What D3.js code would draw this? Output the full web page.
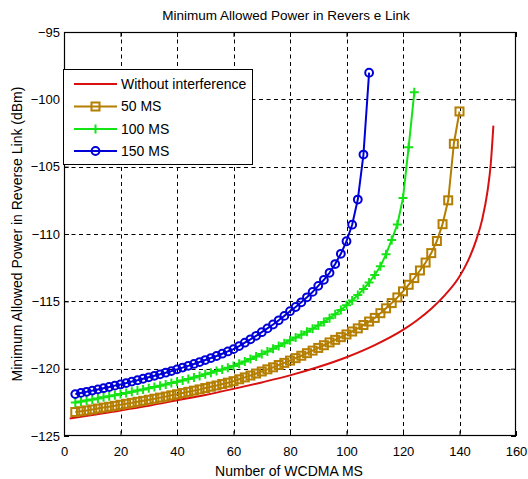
<!DOCTYPE html>
<html>
<head>
<meta charset="utf-8">
<script src="https://cdn.jsdelivr.net/npm/d3@7"></script>
<style>
  body { margin: 0; background: #fff; }
  text { font-family: "Liberation Sans", Arial, sans-serif; }
</style>
</head>
<body>
<svg id="chart" width="528" height="479"></svg>
<script>
// ---- chart text ----
const titleText = "Minimum Allowed Power in Revers e Link";
const xLabelText = "Number of WCDMA MS";
const yLabelText = "Minimum Allowed Power in Reverse Link (dBm)";
const xTicks = [0, 20, 40, 60, 80, 100, 120, 140, 160];
const yTicks = [-125, -120, -115, -110, -105, -100, -95];
const seriesNames = ["Without interference", "50 MS", "100 MS", "150 MS"];

// ---- series: [number of WCDMA MS, minimum allowed power (dBm)] ----
const withoutInterference = [
  [2,-123.70],[10,-123.45],[20,-123.10],[30,-122.75],[40,-122.35],[50,-121.95],
  [60,-121.50],[70,-121.02],[80,-120.50],[90,-119.88],[100,-119.15],[110,-118.25],
  [120,-117.12],[125,-116.40],[130,-115.55],[135,-114.50],[140,-113.15],[143,-112.00],
  [146,-110.40],[148,-108.95],[150,-106.70],[151,-104.95],[152,-101.95]
];
const ms50 = [
  [4,-123.22],[6,-123.16],[8,-123.10],[10,-123.03],[12,-122.96],[14,-122.89],[16,-122.83],
  [18,-122.76],[20,-122.68],[22,-122.61],[24,-122.54],[26,-122.46],[28,-122.39],[30,-122.31],
  [32,-122.23],[34,-122.15],[36,-122.07],[38,-121.98],[40,-121.90],[42,-121.81],[44,-121.72],
  [46,-121.63],[48,-121.54],[50,-121.44],[52,-121.34],[54,-121.25],[56,-121.14],[58,-121.04],
  [60,-120.93],[62,-120.79],[64,-120.65],[66,-120.51],[68,-120.36],[70,-120.21],[72,-120.05],
  [74,-119.90],[76,-119.73],[78,-119.57],[80,-119.40],[82,-119.22],[84,-119.04],[86,-118.85],
  [88,-118.66],[90,-118.46],[92,-118.26],[94,-118.05],[96,-117.86],[98,-117.66],[100,-117.46],
  [102,-117.24],[104,-117.01],[106,-116.76],[108,-116.50],[110,-116.23],[112,-115.88],
  [114,-115.52],[116,-115.13],[118,-114.71],[120,-114.26],[122,-113.77],[124,-113.27],
  [126,-112.71],[128,-112.12],[130,-111.42],[132,-110.52],[134,-109.27],[136,-107.50],
  [138,-103.30],[140,-100.90]
];
const ms100 = [
  [4,-122.51],[6,-122.44],[8,-122.36],[10,-122.29],[12,-122.21],[14,-122.13],[16,-122.05],
  [18,-121.97],[20,-121.89],[22,-121.81],[24,-121.72],[26,-121.63],[28,-121.55],[30,-121.45],
  [32,-121.36],[34,-121.27],[36,-121.17],[38,-121.07],[40,-120.97],[42,-120.87],[44,-120.76],
  [46,-120.65],[48,-120.54],[50,-120.42],[52,-120.30],[54,-120.18],[56,-120.06],[58,-119.93],
  [60,-119.80],[62,-119.63],[64,-119.46],[66,-119.28],[68,-119.10],[70,-118.92],[72,-118.73],
  [74,-118.53],[76,-118.32],[78,-118.11],[80,-117.89],[82,-117.69],[84,-117.48],[86,-117.26],
  [88,-117.03],[90,-116.79],[92,-116.53],[94,-116.25],[96,-115.96],[98,-115.64],[100,-115.30],
  [102,-114.94],[104,-114.53],[106,-114.09],[108,-113.60],[110,-113.04],[112,-112.40],
  [114,-111.50],[116,-110.44],[118,-109.29],[120,-107.32],[122,-103.55],[124,-99.48]
];
const ms150 = [
  [4,-121.89],[6,-121.80],[8,-121.72],[10,-121.63],[12,-121.54],[14,-121.45],[16,-121.36],
  [18,-121.26],[20,-121.17],[22,-121.07],[24,-120.96],[26,-120.86],[28,-120.75],[30,-120.64],
  [32,-120.53],[34,-120.42],[36,-120.30],[38,-120.18],[40,-120.05],[42,-119.92],[44,-119.79],
  [46,-119.65],[48,-119.51],[50,-119.36],[52,-119.21],[54,-119.06],[56,-118.89],[58,-118.72],
  [60,-118.55],[62,-118.32],[64,-118.07],[66,-117.82],[68,-117.56],[70,-117.29],[72,-117.01],
  [74,-116.72],[76,-116.41],[78,-116.08],[80,-115.73],[82,-115.42],[84,-115.07],[86,-114.70],
  [88,-114.30],[90,-113.85],[92,-113.40],[94,-112.88],[96,-112.23],[98,-111.47],[100,-110.54],
  [102,-109.31],[104,-107.44],[106,-104.10],[108,-98.02]
];

const series = [
  { name: seriesNames[0], data: withoutInterference, color: "#d81010", marker: null },
  { name: seriesNames[1], data: ms50,  color: "#b47e00", marker: "square" },
  { name: seriesNames[2], data: ms100, color: "#14e414", marker: "plus" },
  { name: seriesNames[3], data: ms150, color: "#0000d8", marker: "circle" }
];

// ---- layout ----
const W = 528, H = 479;
const plot = { left: 64, right: 516, top: 32, bottom: 436 };

const svg = d3.select("#chart");
svg.append("rect").attr("width", W).attr("height", H).attr("fill", "#fff");

const x = d3.scaleLinear().domain([0, 160]).range([plot.left, plot.right]);
const y = d3.scaleLinear().domain([-125, -95]).range([plot.bottom, plot.top]);

// dashed grid
const grid = svg.append("g").attr("stroke", "#000").attr("stroke-width", 1)
  .attr("stroke-dasharray", "4,3.5");
grid.selectAll("line.gx").data(xTicks.slice(1, -1)).join("line")
  .attr("x1", d => Math.round(x(d)) + 0.5).attr("x2", d => Math.round(x(d)) + 0.5)
  .attr("y1", plot.top).attr("y2", plot.bottom);
grid.selectAll("line.gy").data(yTicks.slice(1, -1)).join("line")
  .attr("y1", d => Math.round(y(d)) + 0.5).attr("y2", d => Math.round(y(d)) + 0.5)
  .attr("x1", plot.left).attr("x2", plot.right);

// axes with inward ticks on all four sides
function styleAxis(g) {
  g.select(".domain").remove();
  g.selectAll(".tick line").attr("stroke", "#000");
  g.selectAll(".tick text").attr("fill", "#000").attr("font-size", 13);
}
svg.append("g").attr("transform", `translate(0,${plot.bottom})`)
  .call(d3.axisBottom(x).tickValues(xTicks).tickSizeInner(-5).tickSizeOuter(0).tickPadding(11))
  .call(styleAxis).attr("font-family", null);
svg.append("g").attr("transform", `translate(0,${plot.top})`)
  .call(d3.axisTop(x).tickValues(xTicks).tickSizeInner(-5).tickSizeOuter(0).tickFormat(""))
  .call(styleAxis);
svg.append("g").attr("transform", `translate(${plot.left},0)`)
  .call(d3.axisLeft(y).tickValues(yTicks).tickSizeInner(-5).tickSizeOuter(0).tickPadding(4))
  .call(styleAxis).attr("font-family", null);
svg.append("g").attr("transform", `translate(${plot.right},0)`)
  .call(d3.axisRight(y).tickValues(yTicks).tickSizeInner(-5).tickSizeOuter(0).tickFormat(""))
  .call(styleAxis);

// plot box
svg.append("rect")
  .attr("x", plot.left + 0.5).attr("y", plot.top + 0.5)
  .attr("width", plot.right - plot.left - 1).attr("height", plot.bottom - plot.top - 1)
  .attr("fill", "none").attr("stroke", "#000").attr("stroke-width", 1.2);

// markers
function drawMarker(g, type, cx, cy, color) {
  if (type === "square") {
    g.append("rect").attr("x", cx - 4).attr("y", cy - 4).attr("width", 8).attr("height", 8)
      .attr("fill", "none").attr("stroke", color).attr("stroke-width", 2);
  } else if (type === "plus") {
    g.append("path").attr("d", `M${cx - 4.5},${cy}H${cx + 4.5}M${cx},${cy - 4.5}V${cy + 4.5}`)
      .attr("fill", "none").attr("stroke", color).attr("stroke-width", 2);
  } else if (type === "circle") {
    g.append("circle").attr("cx", cx).attr("cy", cy).attr("r", 3.9)
      .attr("fill", "none").attr("stroke", color).attr("stroke-width", 2);
  }
}

// curves
const clip = svg.append("defs").append("clipPath").attr("id", "plotClip");
clip.append("rect").attr("x", plot.left).attr("y", plot.top)
  .attr("width", plot.right - plot.left).attr("height", plot.bottom - plot.top);
const curves = svg.append("g").attr("clip-path", "url(#plotClip)");

series.forEach(s => {
  const line = d3.line().x(d => x(d[0])).y(d => y(d[1]))
    .curve(s.marker ? d3.curveLinear : d3.curveMonotoneX);
  curves.append("path").datum(s.data).attr("d", line)
    .attr("fill", "none").attr("stroke", s.color).attr("stroke-width", 2)
    .attr("stroke-linejoin", "round");
  if (s.marker) {
    const mg = curves.append("g");
    s.data.forEach(d => drawMarker(mg, s.marker, x(d[0]), y(d[1]), s.color));
  }
});

// legend
const legend = { x: 63.5, y: 69.5, w: 189, h: 95 };
const lg = svg.append("g");
lg.append("rect").attr("x", legend.x).attr("y", legend.y).attr("width", legend.w).attr("height", legend.h)
  .attr("fill", "#fff").attr("stroke", "#000").attr("stroke-width", 1);
const rowY = [84, 106.5, 129, 151];
series.forEach((s, i) => {
  const cy = rowY[i];
  lg.append("line").attr("x1", 74).attr("x2", 117).attr("y1", cy).attr("y2", cy)
    .attr("stroke", s.color).attr("stroke-width", 2);
  if (s.marker) drawMarker(lg, s.marker, 95.5, cy, s.color);
  lg.append("text").attr("x", 121).attr("y", cy).attr("dy", "0.35em")
    .attr("font-size", 14).attr("fill", "#000").text(s.name);
});

// titles
svg.append("text").attr("x", 286).attr("y", 20).attr("text-anchor", "middle")
  .attr("font-size", 13.5).attr("fill", "#000").text(titleText);
svg.append("text").attr("x", 289).attr("y", 476).attr("text-anchor", "middle")
  .attr("font-size", 14).attr("fill", "#000").text(xLabelText);
svg.append("text").attr("transform", `translate(22,${(plot.top + plot.bottom) / 2}) rotate(-90)`)
  .attr("text-anchor", "middle").attr("font-size", 14).attr("fill", "#000").text(yLabelText);
</script>
</body>
</html>
